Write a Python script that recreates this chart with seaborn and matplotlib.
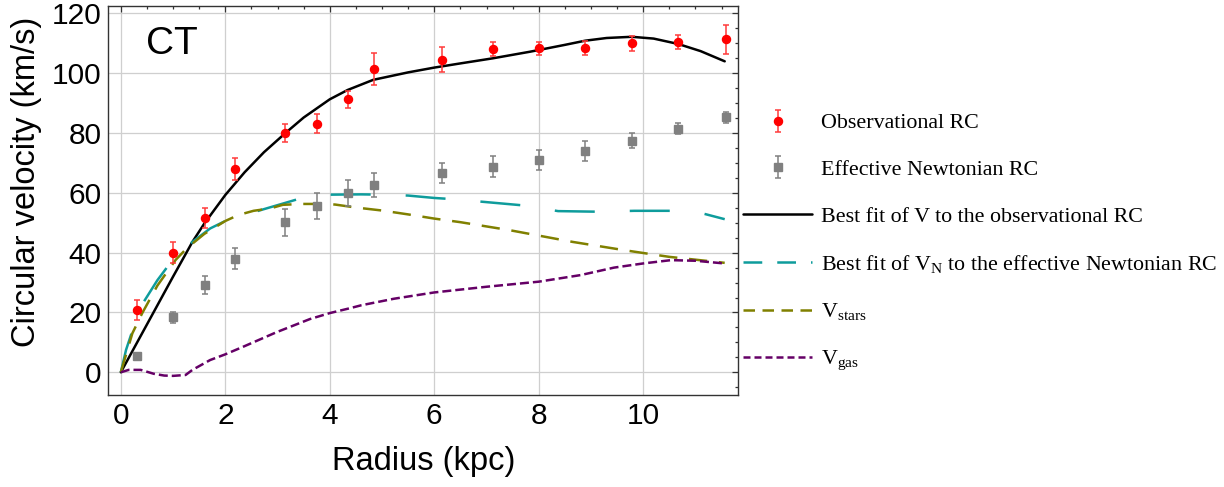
import matplotlib
matplotlib.use('Agg')
import matplotlib.pyplot as plt
import seaborn as sns
from matplotlib.lines import Line2D
from matplotlib.ticker import MultipleLocator

# ---------------- data ----------------
r_obs = [0.30, 0.99, 1.62, 2.18, 3.15, 3.75, 4.34, 4.85, 6.15, 7.12, 8.00, 8.89, 9.78, 10.67, 11.58]
v_obs = [20.9, 40.0, 51.6, 67.9, 80.1, 83.2, 91.3, 101.4, 104.6, 108.2, 108.3, 108.5, 110.0, 110.5, 111.3]
e_obs = [3.4, 3.5, 3.2, 3.6, 3.0, 3.2, 2.8, 5.4, 4.3, 2.4, 2.1, 2.4, 2.4, 2.4, 4.8]

v_eff = [5.6, 18.4, 29.2, 38.0, 50.1, 55.6, 59.9, 62.6, 66.7, 68.8, 71.0, 73.9, 77.5, 81.5, 85.3]
e_eff = [0.8, 1.9, 2.9, 3.6, 4.5, 4.5, 4.4, 4.1, 3.3, 3.4, 3.4, 3.3, 2.6, 1.8, 1.8]

r_V = [0, 0.5, 1.0, 1.37, 1.6, 2.0, 2.37, 2.74, 3.15, 3.5, 4.0, 4.34, 4.83, 5.5, 6.0, 6.5,
       7.12, 7.83, 8.5, 8.89, 9.3, 9.78, 10.2, 10.67, 11.1, 11.56]
v_V = [0, 16, 32, 43.6, 49.8, 59.3, 66.9, 73.6, 80, 85.2, 91.3, 94.4, 97.8, 100.3, 101.9, 103.3,
       105, 107.2, 109.5, 110.9, 111.8, 112.2, 111.6, 109.8, 107.4, 104]

r_VN = [0, 0.1, 0.29, 0.44, 0.7, 1.0, 1.37, 1.71, 2.0, 2.67, 3.37, 4.0, 4.6, 5.0, 5.5, 6.0,
        6.27, 6.94, 7.71, 8.37, 9.14, 9.83, 10.56, 11.1, 11.56]
v_VN = [0, 7.5, 17.5, 23.6, 30.8, 37.8, 43.6, 48.1, 50.6, 54.2, 57.8, 59.4, 59.5, 59.4, 59.1, 58.3,
        58.0, 57.0, 55.8, 53.9, 53.7, 54.0, 54.0, 53.3, 51.2]

r_stars = [0, 0.22, 0.41, 0.7, 1.05, 1.27, 1.6, 2.0, 2.25, 2.54, 2.86, 3.1, 3.46, 3.8, 4.1, 4.5,
           5.0, 5.5, 6.0, 6.5, 7.45, 8.65, 9.65, 10.5, 11.56]
v_stars = [0, 13, 19.8, 29, 37.6, 41.6, 46.3, 50.6, 52.6, 54, 54.8, 56, 56.3, 56.3, 56.1, 55.1,
           54.1, 52.8, 51.4, 50.2, 47.5, 43.6, 40.8, 38.6, 36.6]

r_gas = [0, 0.15, 0.38, 0.63, 0.83, 1.0, 1.24, 1.37, 1.71, 2.0, 2.35, 2.98, 3.62, 4.0, 4.38, 4.6,
         5.23, 6.0, 7.0, 8.0, 8.8, 9.44, 10.0, 10.53, 11.0, 11.55]
v_gas = [0, 0.8, 0.8, -0.5, -1.1, -1.2, -0.9, 0.8, 4.1, 6.0, 8.6, 13.4, 17.8, 19.8, 21.4, 22.4,
         24.6, 26.7, 28.6, 30.3, 32.5, 35.0, 36.4, 37.5, 37.3, 36.4]

labels = ["Observational RC", "Effective Newtonian RC",
          "Best fit of V to the observational RC",
          r"Best fit of $\mathregular{V_N}$ to the effective Newtonian RC",
          r"$\mathregular{V_{stars}}$", r"$\mathregular{V_{gas}}$"]

# ---------------- style ----------------
sns.set_theme(style="white")
plt.rcParams['font.family'] = ['Liberation Sans', 'DejaVu Sans']
plt.rcParams['mathtext.fontset'] = 'custom'
plt.rcParams['mathtext.rm'] = 'Liberation Serif'
for k in ['text.color', 'axes.labelcolor', 'xtick.color', 'ytick.color']:
    plt.rcParams[k] = 'black'

C_TEAL = '#0e9c9c'
C_OLIVE = '#808000'
C_PURP = '#650066'
LW = 1.8

fig = plt.figure(figsize=(12.24, 4.87), dpi=100)
ax = fig.add_axes([108.3 / 1224, 1 - 395 / 487, (738.3 - 108.3) / 1224, (395 - 5.7) / 487])

sns.lineplot(x=r_V, y=v_V, ax=ax, color='black', lw=LW, sort=False, estimator=None, zorder=2)
sns.lineplot(x=r_VN, y=v_VN, ax=ax, color=C_TEAL, lw=LW, sort=False, estimator=None, zorder=2)
ax.lines[-1].set_dashes((16, 14))
sns.lineplot(x=r_stars, y=v_stars, ax=ax, color=C_OLIVE, lw=LW, sort=False, estimator=None, zorder=2)
ax.lines[-1].set_dashes((7.3, 4.7))
sns.lineplot(x=r_gas, y=v_gas, ax=ax, color=C_PURP, lw=LW, sort=False, estimator=None, zorder=2)
ax.lines[-1].set_dashes((3.6, 1.6))
line_V = ax.lines[0]

eb_obs = ax.errorbar(r_obs, v_obs, yerr=e_obs, fmt='o', color='#ff0000', ms=5.8,
                     ecolor='#ff3b3b', elinewidth=1.1, capsize=2.3, capthick=1.1, zorder=4)
eb_eff = ax.errorbar(r_obs, v_eff, yerr=e_eff, fmt='s', color='#808080', ms=6.0,
                     ecolor='#808080', elinewidth=1.1, capsize=2.3, capthick=1.1, zorder=3)

ax.set_xlim(-0.24, 11.82)
ax.set_ylim(-7.6, 122.6)
ax.xaxis.set_major_locator(MultipleLocator(2))
ax.xaxis.set_minor_locator(MultipleLocator(0.5))
ax.yaxis.set_major_locator(MultipleLocator(20))
ax.yaxis.set_minor_locator(MultipleLocator(5))
ax.grid(True, which='major', color='#cfcfcf', lw=0.9)
ax.set_axisbelow(True)
ax.tick_params(which='both', direction='in', top=True, right=True, color='#333333', width=0.9,
               labelcolor='black')
ax.tick_params(which='major', length=4.5, labelsize=21.5, pad=5)
ax.tick_params(which='minor', length=2.5)
for s in ax.spines.values():
    s.set_color('#333333')
    s.set_linewidth(1.0)

ax.set_xlabel("Radius (kpc)", fontsize=23.5, color='black')
ax.set_ylabel("Circular velocity (km/s)", fontsize=23.5, color='black')
ax.xaxis.set_label_coords(0.5, -0.131)
ax.yaxis.set_label_coords(-0.106, 0.548)

fig.text(171.5 / 1224, 1 - 44.5 / 487, "CT", fontsize=28, ha='center', va='center', color='black')

# legend
h_VN = Line2D([], [], color=C_TEAL, lw=LW, dashes=(7.5, 6.0))
h_st = Line2D([], [], color=C_OLIVE, lw=LW, dashes=(4.6, 3.0))
h_gs = Line2D([], [], color=C_PURP, lw=LW, dashes=(2.8, 1.6))
leg = fig.legend([eb_obs, eb_eff, line_V, h_VN, h_st, h_gs], labels,
                 loc='upper left', bbox_to_anchor=(743.4 / 1224, 1 - 113 / 487),
                 frameon=False, borderpad=0, borderaxespad=0,
                 handlelength=3.11, handletextpad=0.43, labelspacing=1.2,
                 prop={'family': 'Liberation Serif', 'size': 15.8})
for t in leg.get_texts():
    t.set_color('black')

fig.savefig("out.png", dpi=100)
